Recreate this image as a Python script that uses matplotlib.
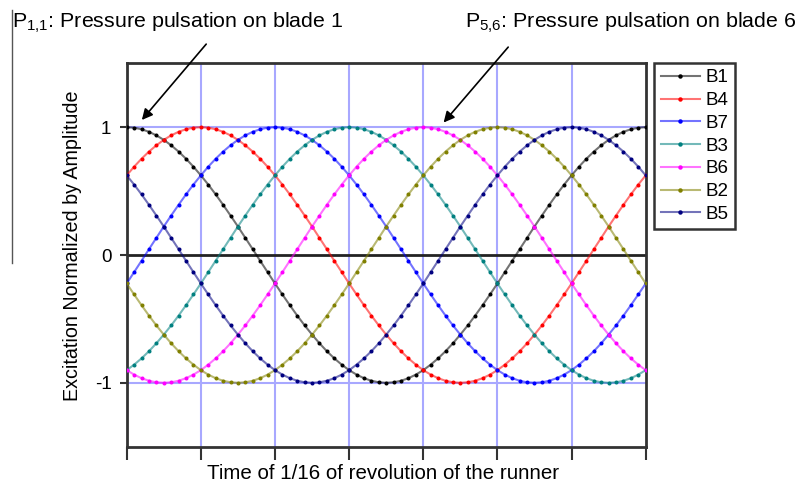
import numpy as np
import matplotlib
matplotlib.use("Agg")
import matplotlib.pyplot as plt
from matplotlib.lines import Line2D
from matplotlib.colors import to_rgba

plt.rcParams['font.family'] = ['Liberation Sans', 'DejaVu Sans']
plt.rcParams['mathtext.fontset'] = 'custom'
plt.rcParams['mathtext.rm'] = 'Liberation Sans'
plt.rcParams['mathtext.it'] = 'Liberation Sans:italic'

# ---------------- data ----------------
blades = ['B1', 'B4', 'B7', 'B3', 'B6', 'B2', 'B5']
# interval (1/16 rev step) at which each blade's excitation peaks
peak_interval = [0, 1, 2, 3, 4, 5, 6]
colors = ['#000000', '#ff0000', '#0000ff', '#008080', '#ff00ff', '#808000', '#000080']
samples_per_interval = 10
n_intervals = 7
# one period of the normalized excitation (70 samples)
waveform = [1.000, 0.996, 0.984, 0.964, 0.936, 0.901, 0.858, 0.809, 0.753, 0.691,
            0.623, 0.551, 0.474, 0.393, 0.309, 0.223, 0.134, 0.045, -0.045, -0.134,
            -0.223, -0.309, -0.393, -0.474, -0.551, -0.623, -0.691, -0.753, -0.809, -0.858,
            -0.901, -0.936, -0.964, -0.984, -0.996, -1.000, -0.996, -0.984, -0.964, -0.936,
            -0.901, -0.858, -0.809, -0.753, -0.691, -0.623, -0.551, -0.474, -0.393, -0.309,
            -0.223, -0.134, -0.045, 0.045, 0.134, 0.223, 0.309, 0.393, 0.474, 0.551,
            0.623, 0.691, 0.753, 0.809, 0.858, 0.901, 0.936, 0.964, 0.984, 0.996]
y_ticks = [-1, 0, 1]
y_ticklabels = ['-1', '0', '1']
xlabel = 'Time of 1/16 of revolution of the runner'
ylabel = 'Excitation Normalized by Amplitude'
note1 = r'P$_{\mathregular{1{,}1}}$: Pressure pulsation on blade 1'
note2 = r'P$_{\mathregular{5{,}6}}$: Pressure pulsation on blade 6'

# ---------------- figure ----------------
W, H = 805, 484
fig = plt.figure(figsize=(W / 100, H / 100), dpi=100)
ax_l, ax_r, ax_t, ax_b = 126.7, 645.7, 63.3, 446.7
ax = fig.add_axes([ax_l / W, 1 - ax_b / H, (ax_r - ax_l) / W, (ax_b - ax_t) / H])

t = np.arange(n_intervals * samples_per_interval + 1) / samples_per_interval
wf = np.array(waveform)
line_alpha = 0.55
for name, k, c in zip(blades, peak_interval, colors):
    y = np.roll(wf, k * samples_per_interval)
    y = np.append(y, y[0])
    ax.plot(t, y, color=c, lw=1.5, alpha=line_alpha, zorder=3)
    ax.plot(t, y, ls='none', marker='o', ms=2.9, mec='none', mfc=c, zorder=4)

grid_c = '#a8a8ff'
for xv in range(1, n_intervals):
    ax.axvline(xv, color=grid_c, lw=1.5, zorder=1)
for yv in (-1, 1):
    ax.axhline(yv, color=grid_c, lw=1.5, zorder=1)
ax.axhline(0, color='#222222', lw=2.0, zorder=2)

ax.set_xlim(0, n_intervals)
ax.set_ylim(-1.5, 1.5)
ax.set_xticks(range(0, n_intervals + 1))
ax.set_xticklabels([])
ax.set_yticks(y_ticks)
ax.set_yticklabels(y_ticklabels, fontsize=13.5)
ax.tick_params(axis='x', direction='out', length=9, width=1.5, color='#333333')
ax.tick_params(axis='y', direction='out', length=5, width=1.5, color='#333333', pad=6)
for s in ax.spines.values():
    s.set_color('#333333')
    s.set_linewidth(2)

ax.set_xlabel(xlabel, fontsize=14.8)
ax.xaxis.set_label_coords(0.493, -0.046)
ax.set_ylabel(ylabel, fontsize=14.2)
ax.yaxis.set_label_coords(-0.086, 0.525)

hs = [Line2D([0], [0], color=to_rgba(c, line_alpha), lw=1.5, marker='o', ms=3.2,
             mec='none', mfc=c) for c in colors]
leg = fig.legend(hs, blades, numpoints=1,
                 loc='upper left', bbox_to_anchor=(654 / W, 1 - 62.7 / H),
                 fontsize=13.5, frameon=True, fancybox=False, edgecolor='black',
                 handlelength=2.1, handletextpad=0.3, labelspacing=0.3,
                 borderpad=0.35, borderaxespad=0)
leg.get_frame().set_linewidth(1.8)

# annotations
fig.text(12 / W, 1 - 28 / H, note1, fontsize=15.4, va='baseline', ha='left')
fig.text(465 / W, 1 - 28 / H, note2, fontsize=15.4, va='baseline', ha='left')
ax.annotate('', xy=(0.18, 1.04), xycoords='data',
            xytext=(208 / W, 1 - 42 / H), textcoords='figure fraction',
            arrowprops=dict(arrowstyle='-|>', color='black', lw=1.2, mutation_scale=16),
            annotation_clip=False, zorder=6)
ax.annotate('', xy=(4.25, 1.02), xycoords='data',
            xytext=(510 / W, 1 - 45 / H), textcoords='figure fraction',
            arrowprops=dict(arrowstyle='-|>', color='black', lw=1.2, mutation_scale=16),
            annotation_clip=False, zorder=6)

# scan-edge line at the left
fig.add_artist(Line2D([12 / W, 12 / W], [1 - 10 / H, 1 - 263 / H], color='#555555', lw=1.0))

fig.savefig('out.png', dpi=100)
